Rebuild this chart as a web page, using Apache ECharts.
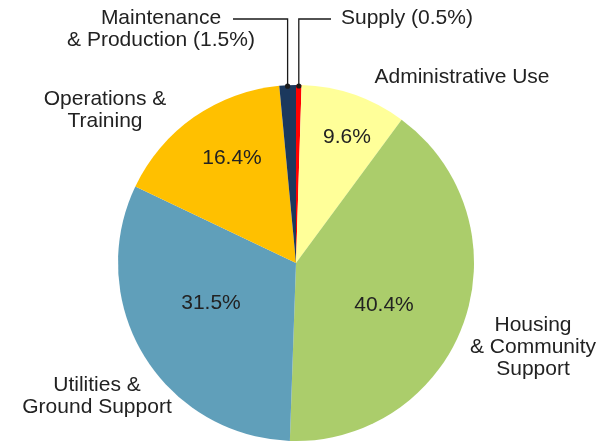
<!DOCTYPE html>
<html>
<head>
<meta charset="utf-8">
<script src="https://cdn.jsdelivr.net/npm/echarts@6/dist/echarts.min.js"></script>
<style>
  html, body { margin: 0; padding: 0; background: #ffffff; }
  #chart { width: 598px; height: 442px; }
</style>
</head>
<body>
<div id="chart"></div>
<script>
// Spending share by category, clockwise from 12 o'clock
const categories = ['Supply', 'Administrative Use', 'Housing & Community Support',
                    'Utilities & Ground Support', 'Operations & Training', 'Maintenance & Production'];
const shares = [0.5, 9.6, 40.4, 31.5, 16.4, 1.5];
// How each category name is broken across lines in its callout
const calloutNames = ['Supply', 'Administrative Use', 'Housing\n& Community\nSupport',
                      'Utilities &\nGround Support', 'Operations &\nTraining', 'Maintenance\n& Production'];
const sliceColors = ['#ff0000', '#ffff99', '#abcd6b', '#609fba', '#ffc000', '#1b385d'];

const CX = 296, CY = 263, R = 178;
const FONT = '"Liberation Sans", Arial, sans-serif';
const TEXT = '#222222';
const SMALL = 5; // slices below this share get an external callout with leader line

// Callout placement (centre of the text block)
const calloutPos = [
  { x: 341, y: 18, align: 'left', leaderY: 19, leaderEndX: 331 },
  { x: 462, y: 77, align: 'center' },
  { x: 533, y: 347, align: 'center' },
  { x: 97, y: 396, align: 'center' },
  { x: 105, y: 110, align: 'center' },
  { x: 161, y: 29, align: 'center', leaderY: 19, leaderEndX: 233 }
];
// Placement of the percentage inside each large slice
const valuePos = [null, [347, 137], [384, 305], [211, 303], [232, 158], null];

const total = shares.reduce((a, b) => a + b, 0);
// Point on the rim at the middle of slice i
function rimPoint(i) {
  let before = 0;
  for (let k = 0; k < i; k++) before += shares[k];
  const theta = (before + shares[i] / 2) / total * 2 * Math.PI;
  return [CX + R * Math.sin(theta), CY - R * Math.cos(theta)];
}

const chart = echarts.init(document.getElementById('chart'), null, { renderer: 'canvas' });

const sliceData = shares.map((v, i) => ({
  name: categories[i],
  value: v,
  itemStyle: { color: sliceColors[i] },
  label: { show: v >= SMALL }
}));

const calloutData = shares.map((v, i) => ({
  name: categories[i],
  value: v,
  labelLine: { show: v < SMALL }
}));

chart.setOption({
  animation: false,
  backgroundColor: '#ffffff',
  series: [
    {
      type: 'pie',
      center: [CX, CY],
      radius: [0, R],
      startAngle: 90,
      clockwise: true,
      avoidLabelOverlap: false,
      silent: true,
      data: sliceData,
      label: {
        position: 'inside',
        formatter: p => p.value + '%',
        color: TEXT,
        fontFamily: FONT,
        fontSize: 21
      },
      labelLine: { show: false },
      labelLayout: p => {
        const q = valuePos[p.dataIndex];
        return q ? { x: q[0], y: q[1], align: 'center', verticalAlign: 'middle' } : {};
      }
    },
    {
      type: 'pie',
      center: [CX, CY],
      radius: [0, R],
      startAngle: 90,
      clockwise: true,
      avoidLabelOverlap: false,
      silent: true,
      z: 3,
      itemStyle: { color: 'rgba(0,0,0,0)' },
      data: calloutData,
      label: {
        position: 'outside',
        formatter: p => {
          const name = calloutNames[p.dataIndex];
          return p.value < SMALL ? name + ' (' + p.value + '%)' : name;
        },
        color: TEXT,
        fontFamily: FONT,
        fontSize: 21,
        lineHeight: 22,
        align: 'center'
      },
      labelLine: {
        show: true,
        lineStyle: { color: '#1a1a1a', width: 1.3 }
      },
      labelLayout: p => {
        const pos = calloutPos[p.dataIndex];
        const out = { x: pos.x, y: pos.y, align: pos.align, verticalAlign: 'middle' };
        if (pos.leaderY != null) {
          const e = rimPoint(p.dataIndex);
          out.labelLinePoints = [[e[0], e[1]], [e[0], pos.leaderY], [pos.leaderEndX, pos.leaderY]];
        }
        return out;
      }
    }
  ],
  graphic: shares.map((v, i) => v < SMALL ? {
    type: 'circle',
    z: 100,
    shape: { cx: rimPoint(i)[0], cy: rimPoint(i)[1] + 1, r: 2.6 },
    style: { fill: '#1a1a1a' }
  } : null).filter(Boolean)
});
</script>
</body>
</html>
